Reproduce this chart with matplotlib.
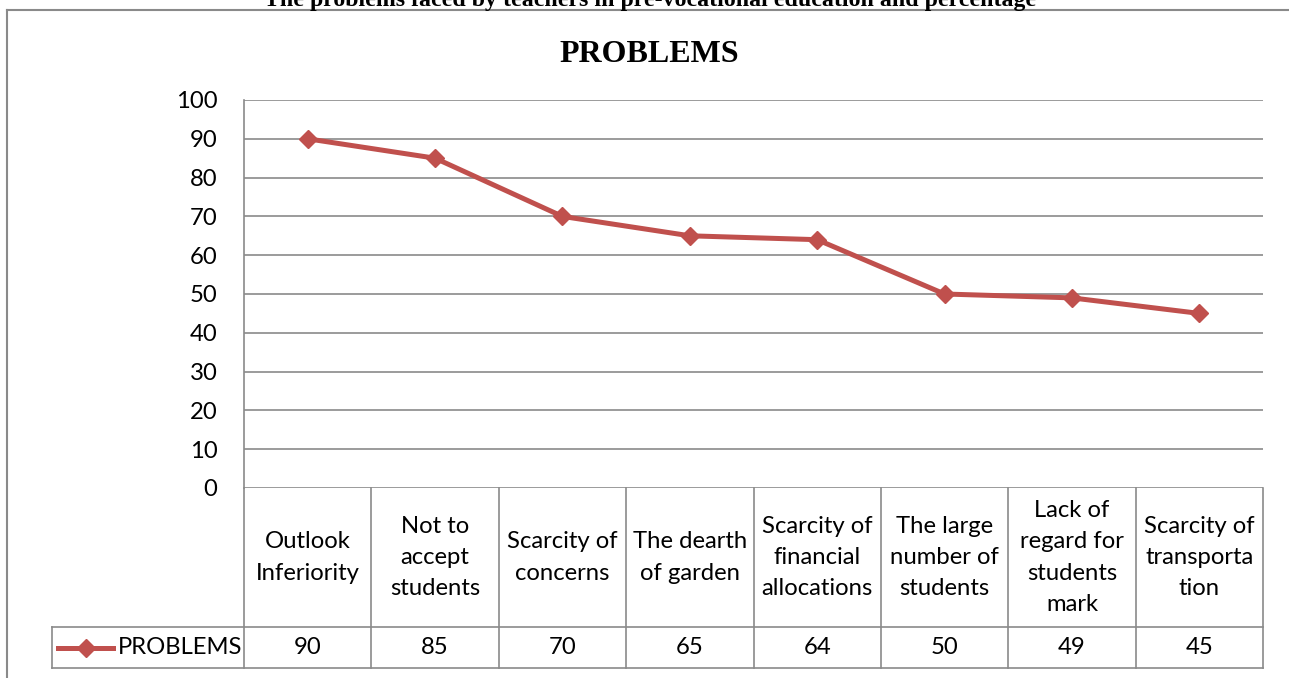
#Line chart with data table
import numpy as np
import matplotlib.pyplot as plt
from matplotlib.lines import Line2D

#Data
categories = ["Outlook\nInferiority", "Not to\naccept\nstudents", "Scarcity of\nconcerns",
              "The dearth\nof garden", "Scarcity of\nfinancial\nallocations",
              "The large\nnumber of\nstudents", "Lack of\nregard for\nstudents\nmark",
              "Scarcity of\ntransporta\ntion"]
values = [90, 85, 70, 65, 64, 50, 49, 45]
series_name = "PROBLEMS"
yticks = [0, 10, 20, 30, 40, 50, 60, 70, 80, 90, 100]

#Style
W, H = 1289, 678
red = "#C0504D"
gray = "#8a8a8a"
font = "Lato"
fs = 17.2

fig = plt.figure(figsize=(W / 100, H / 100), dpi=100)

def fx(px):
    return px / W

def fy(py):
    return 1 - py / H

#Outer chart border (left + top, the rest is cropped)
fig.add_artist(Line2D([fx(7), fx(7)], [fy(10), fy(700)], color=gray, lw=1.5))
fig.add_artist(Line2D([fx(7), fx(1300)], [fy(10), fy(10)], color=gray, lw=1.5))

#Plot area
L, R, T, B = 244, 1263, 100, 488
ax = fig.add_axes([fx(L), fy(B), fx(R - L), fy(T) - fy(B)])
x = np.arange(len(values))
ax.plot(x, values, color=red, lw=3.6, marker="D", markersize=9, zorder=3)
ax.set_xlim(-0.5, len(values) - 0.5)
ax.set_ylim(0, 100)
ax.set_yticks(yticks)
ax.set_xticks([])
ax.grid(axis="y", color=gray, lw=1.2)
ax.set_axisbelow(True)
for s in ["top", "right", "bottom"]:
    ax.spines[s].set_visible(False)
ax.spines["left"].set_color(gray)
ax.spines["left"].set_linewidth(1.2)
ax.tick_params(axis="y", length=0, pad=19, labelsize=fs)
for lab in ax.get_yticklabels():
    lab.set_fontfamily(font)

#Titles
fig.text(fx(650), fy(6), "The problems faced by teachers in pre-vocational education and percentage",
         ha="center", va="baseline", fontsize=17.2, fontweight="bold",
         family="Liberation Serif", zorder=5)
fig.text(fx(649), fy(62), "PROBLEMS", ha="center", va="baseline", fontsize=23,
         fontweight="bold", family="Liberation Serif")

#Data table
TL, TB, ROW = 52, 668, 627
tax = fig.add_axes([fx(TL), fy(TB), fx(R - TL), fy(B) - fy(TB)])
colw = (R - L) / len(values)
left = -0.5 - (L - TL) / colw
tax.set_xlim(left, len(values) - 0.5)
tax.set_ylim(0, 1)
tax.axis("off")
ysplit = (TB - ROW) / (TB - B)

def tx(px):
    return -0.5 + (px - L) / colw

for xb in np.arange(len(values) + 1) - 0.5:
    tax.plot([xb, xb], [0, 1], color=gray, lw=1.2, clip_on=False)
tax.plot([left, left], [0, ysplit], color=gray, lw=1.2, clip_on=False)
tax.plot([left, len(values) - 0.5], [0, 0], color=gray, lw=1.2, clip_on=False)
tax.plot([left, len(values) - 0.5], [ysplit, ysplit], color=gray, lw=1.2, clip_on=False)

for i, (c, v) in enumerate(zip(categories, values)):
    tax.text(i, (1 + ysplit) / 2, c, ha="center", va="center", fontsize=fs,
             family=font, linespacing=1.6)
    tax.text(i, ysplit / 2, str(v), ha="center", va="center", fontsize=fs, family=font)

#Legend key in table
tax.plot([tx(58), tx(113)], [ysplit / 2, ysplit / 2], color=red, lw=3.6, clip_on=False)
tax.plot([tx(86)], [ysplit / 2], color=red, marker="D", markersize=9, clip_on=False)
tax.text(tx(118), ysplit / 2, series_name, ha="left", va="center", fontsize=fs, family=font)

fig.savefig("out.png", dpi=100)
